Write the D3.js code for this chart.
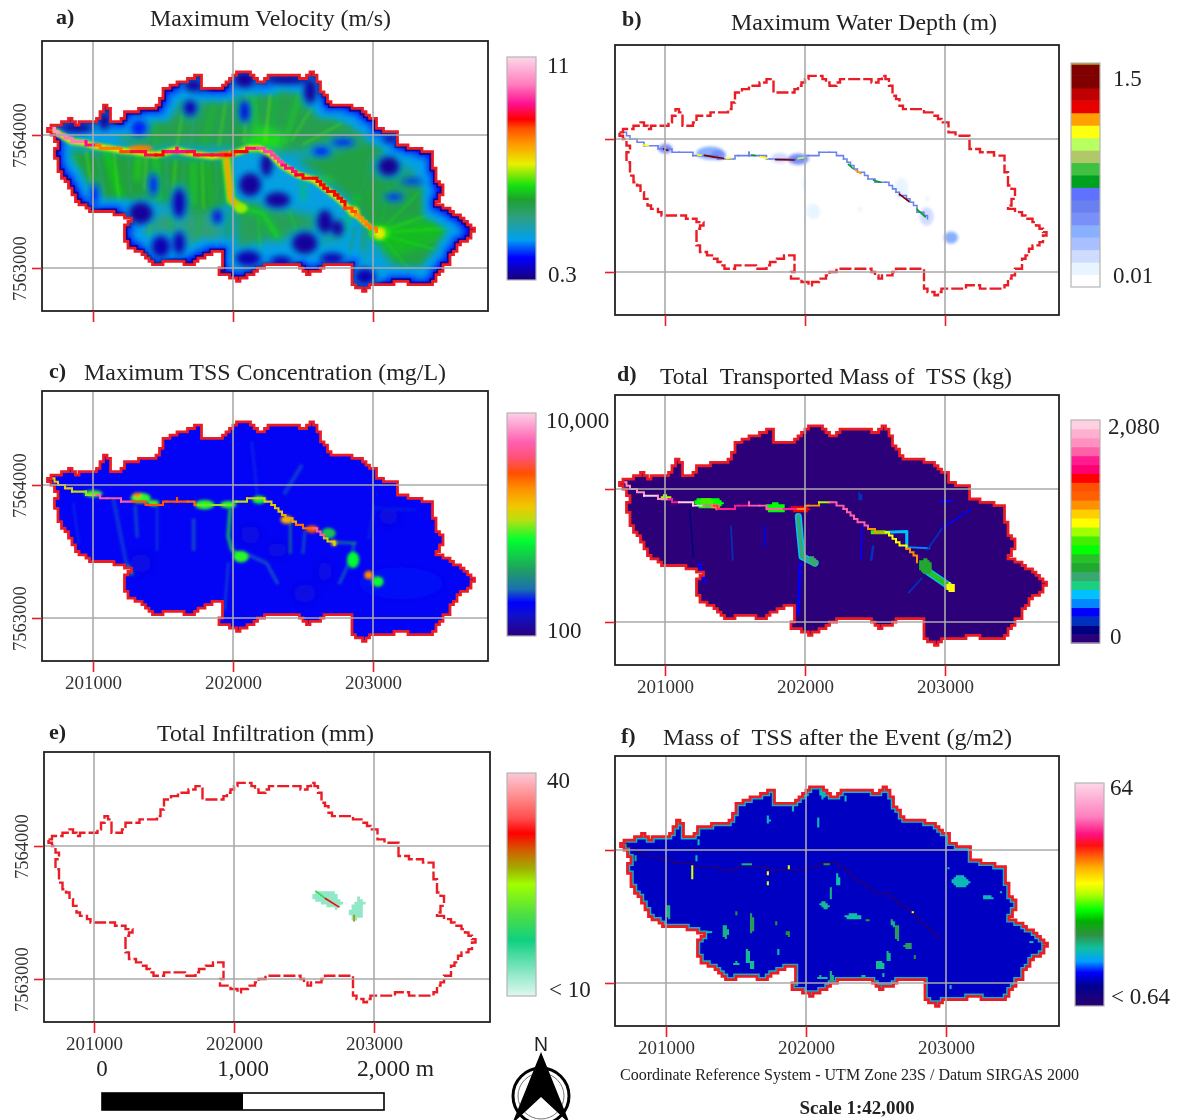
<!DOCTYPE html>
<html>
<head>
<meta charset="utf-8">
<style>
  html, body { margin: 0; background: #fff; }
  svg { display: block; filter: blur(0.4px); }
  text { font-family: "Liberation Serif", serif; fill: #222; }
</style>
</head>
<body>
<div id="container"></div>
<script src="https://d3js.org/d3.v7.min.js"></script>
<script>
// everything below is in map units: UTM easting / northing in metres
const eastTicks = [201000, 202000, 203000];
const northTicks = [7564000, 7563000];

const boundary = [[200682,7564053],[200768,7564095],[200833,7564116],[200885,7564085],[200964,7564111],[201029,7564103],[201042,7564153],[201081,7564216],[201115,7564178],[201125,7564103],[201185,7564111],[201229,7564166],[201328,7564191],[201419,7564204],[201484,7564241],[201490,7564329],[201549,7564379],[201628,7564392],[201706,7564430],[201766,7564455],[201776,7564362],[201875,7564342],[201966,7564405],[202018,7564472],[202109,7564480],[202174,7564392],[202240,7564430],[202279,7564455],[202409,7564455],[202513,7564417],[202539,7564480],[202591,7564442],[202630,7564329],[202695,7564229],[202838,7564216],[202904,7564191],[203008,7564116],[203047,7564040],[203164,7564015],[203182,7563935],[203281,7563902],[203424,7563864],[203437,7563739],[203450,7563651],[203502,7563626],[203489,7563538],[203458,7563475],[203541,7563437],[203620,7563374],[203715,7563274],[203700,7563231],[203646,7563198],[203594,7563136],[203541,7563035],[203489,7562972],[203424,7562884],[203346,7562864],[203229,7562897],[203125,7562884],[203021,7562872],[202943,7562834],[202864,7562884],[202851,7563025],[202682,7563025],[202617,7562985],[202526,7562947],[202487,7563025],[202370,7563025],[202240,7563025],[202161,7562972],[202057,7562909],[201992,7562934],[201888,7562972],[201927,7563025],[201914,7563136],[201823,7563090],[201693,7563022],[201628,7563060],[201536,7563048],[201445,7563017],[201406,7563085],[201276,7563148],[201229,7563211],[201237,7563324],[201263,7563374],[201172,7563412],[201003,7563437],[200885,7563512],[200820,7563638],[200755,7563739],[200729,7563864],[200742,7563952],[200682,7564053]];

const river = [[200682,7564053],[200755,7564010],[200846,7563952],[200938,7563940],[201016,7563915],[201107,7563902],[201198,7563884],[201276,7563877],[201354,7563864],[201445,7563852],[201523,7563869],[201589,7563889],[201667,7563869],[201758,7563852],[201849,7563839],[201953,7563852],[202031,7563869],[202109,7563902],[202187,7563902],[202266,7563859],[202344,7563776],[202461,7563701],[202578,7563663],[202656,7563600],[202734,7563538],[202812,7563462],[202864,7563412],[202943,7563337],[203021,7563274]];

// a) velocity, m/s
const velocityStops = [0, 0.1, 0.18, 0.28, 0.36, 0.42, 0.52, 0.62, 0.68, 0.72, 0.79, 0.88, 1];
const velocityColors = ["#1a0078", "#0000ff", "#00a0f0", "#2fa080", "#1fa030", "#10e010", "#e8f000", "#ff9000", "#ff5000", "#ff0000", "#ff1090", "#ff80c0", "#fcd8e8"];
const velocityRiver = [8, 7, 7, 5, 3, 3, 3.5, 4.5, 4.5, 4, 5, 5, 4.5, 4.5, 4.5, 4, 4, 5, 6, 6, 5, 4.2, 4, 4, 4, 3.5, 2.8, 3];
const velocityZones = [
  [0.98, [[201172,7564090],[201302,7564153],[201484,7564178],[201589,7564266],[201771,7564292],[201927,7564304],[202109,7564354],[202487,7564354],[202578,7564216],[202760,7564128],[202943,7564040],[203047,7563940],[202838,7563915],[202370,7563864],[202005,7563902],[201589,7563915],[201328,7563902],[201198,7563965]]],
  [1.05, [[200781,7563889],[201198,7563864],[201953,7563814],[201966,7563512],[201901,7563412],[201667,7563412],[201458,7563512],[201250,7563412],[201042,7563462],[200885,7563613]]],
  [0.85, [[201250,7563337],[201432,7563412],[201849,7563412],[201927,7563311],[201901,7563161],[201693,7563085],[201510,7563261],[201328,7563211]]],
  [0.95, [[202005,7563512],[202213,7563512],[202474,7563412],[202786,7563362],[202760,7563211],[202578,7563211],[202240,7563211],[202031,7563136]]],
  [1.02, [[202448,7563814],[202838,7563915],[203021,7563940],[203177,7563814],[203385,7563613],[203411,7563412],[203620,7563311],[203568,7563136],[203411,7562985],[203151,7563010],[202969,7563261],[202838,7563512],[202630,7563688]]],
  [1.2, [[203021,7563311],[203411,7563374],[203594,7563286],[203411,7563186],[203151,7563085],[203021,7563186]]],
  [1.4, [[202083,7563940],[202213,7564065],[202370,7563990],[202318,7563889],[202109,7563902]]]
];
const velocityWideStreaks = [
  [1.35, 30, [[201094,7563889],[201198,7563512]]],
  [1.4, 25, [[201328,7563839],[201315,7563663]]],
  [1.3, 30, [[201445,7563839],[201471,7563512]]],
  [1.3, 30, [[201719,7563789],[201719,7563487]]],
  [1.25, 25, [[200859,7563839],[200898,7563613]]],
  [1.2, 20, [[201823,7563789],[201849,7563462]]],
  [1.3, 30, [[202174,7563915],[202140,7564329]]],
  [1.3, 25, [[202370,7563940],[202487,7564342]]],
  [1.1, 25, [[202031,7563889],[202036,7564317]]],
  [1.2, 25, [[201797,7563940],[201862,7564216]]],
  [1.2, 20, [[201458,7563915],[201445,7564128]]],
  [1.25, 15, [[202318,7564367],[202266,7563965]]],
  [1.35, 35, [[202057,7563450],[202213,7563412],[202318,7563236]]],
  [1.1, 30, [[201966,7563412],[201953,7563060]]],
  [1.35, 18, [[202500,7563651],[202500,7563512]]],
  [1.35, 20, [[202890,7563538],[202786,7563261]]],
  [0.95, 15, [[202995,7563839],[202943,7563594]]],
  [1.4, 20, [[202708,7563663],[202578,7563676]]],
  [1.0, 30, [[202943,7563286],[202917,7563010]]],
  [0.95, 15, [[203008,7563852],[203359,7563814]]]
];
const velocityThinStreaks = [
  [1.5, 14, [[200950,7563880],[200990,7563600]]],
  [0.8, 18, [[201030,7563860],[201080,7563560]]],
  [1.5, 14, [[201150,7563860],[201190,7563470]]],
  [0.85, 16, [[201250,7563850],[201270,7563560]]],
  [1.6, 12, [[201380,7563840],[201370,7563590]]],
  [0.8, 18, [[201520,7563820],[201530,7563600]]],
  [1.5, 14, [[201590,7563810],[201570,7563520]]],
  [0.85, 16, [[201650,7563800],[201640,7563560]]],
  [1.5, 14, [[201780,7563800],[201790,7563450]]],
  [0.85, 16, [[201880,7563790],[201880,7563500]]],
  [1.4, 14, [[201410,7563410],[201400,7563200]]],
  [1.2, 16, [[201560,7563400],[201560,7563180]]],
  [1.2, 14, [[201760,7563400],[201740,7563130]]],
  [1.25, 14, [[201290,7563330],[201300,7563180]]],
  [1.5, 12, [[201600,7563910],[201650,7564240]]],
  [0.8, 16, [[201700,7563930],[201720,7564120]]],
  [1.5, 12, [[201900,7563920],[201950,7564280]]],
  [1.5, 14, [[202080,7563950],[202100,7564320]]],
  [1.6, 14, [[202230,7563950],[202270,7564340]]],
  [1.5, 12, [[202420,7563960],[202560,7564200]]],
  [1.5, 12, [[202500,7563930],[202780,7564090]]],
  [1.3, 14, [[202400,7563440],[202480,7563200]]],
  [1.25, 14, [[202600,7563420],[202640,7563150]]],
  [1.3, 14, [[202180,7563380],[202200,7563060]]],
  [1.1, 16, [[202870,7563300],[202820,7563040]]],
  [1.4, 16, [[203047,7563270],[203450,7563420]]],
  [1.4, 16, [[203047,7563265],[203550,7563300]]],
  [1.35, 16, [[203047,7563255],[203440,7563140]]],
  [1.3, 14, [[203047,7563255],[203250,7563000]]],
  [1.3, 14, [[203047,7563270],[203320,7563560]]],
  [1.2, 14, [[203047,7563280],[203120,7563620]]],
  [1.2, 14, [[203040,7563280],[202960,7563580]]]
];
const velocityTributary = [
  [1.4, 70, [[201953,7563814],[201974,7563613],[201984,7563512],[202057,7563450]]],
  [2.6, 35, [[201953,7563814],[201974,7563613],[201984,7563512],[202057,7563450]]]
];
const velocityLows = [[201693,7564204,40,50,0.35],[202083,7564178,26,70,0.4],[201328,7564053,47,50,0.45],[202240,7563776,36,75,0.33],[202122,7563626,68,75,0.33],[202318,7563512,78,50,0.33],[203112,7563764,65,62,0.32],[202630,7563877,52,25,0.45],[202786,7563945,68,20,0.45],[202656,7563349,47,75,0.33],[202747,7563299,36,50,0.33],[201615,7563487,39,95,0.35],[201341,7563412,73,70,0.33],[201888,7563387,26,45,0.38],[201432,7563626,21,70,0.45],[201010,7563550,21,70,0.45],[202513,7563186,78,70,0.33],[201484,7563161,57,70,0.35],[201615,7563186,36,75,0.35],[202109,7563073,78,50,0.35],[202344,7563048,65,35,0.35],[202708,7563073,73,35,0.35],[202943,7562935,65,55,0.35],[203281,7563651,65,15,0.45],[203151,7563533,52,18,0.45],[202083,7564417,65,55,0.33],[202383,7564417,130,30,0.33],[201719,7564372,57,40,0.33],[202552,7564329,39,80,0.33],[200885,7564053,104,30,0.33],[201081,7564103,36,55,0.33],[203125,7563970,52,25,0.35]];
const velocityHighs = [[203047,7563261,78,62,1.4],[203047,7563261,37,40,2],[202864,7563425,39,38,2.2],[201341,7563902,90,20,3],[201953,7563852,65,20,3.6],[202057,7563450,47,35,1.7]];

// b) depth, m (classed legend, bottom to top)
const depthBands = ["#ffffff", "#e8f4ff", "#d0dcff", "#a8c0ff", "#88b0ff", "#7890f8", "#6880f0", "#6070ff", "#00a020", "#40c040", "#b0c868", "#b8ff60", "#ffff10", "#ffa000", "#e80000", "#c00000", "#800000", "#800000"];
const depthRiver = [0.55, 0.55, 0.55, 0.55, 0.55, 0.55, 0.55, 0.55, 0.55, 0.55, 0.55, 0.55, 0.55, 0.55, 0.55, 0.55, 0.55, 0.55, 0.55, 0.55, 0.55, 0.55, 0.55, 0.55, 0.55, 0.55];
const depthReaches = [
  [1.4, 12, [[201283,7563877],[201354,7563864],[201417,7563855]]],
  [1.4, 12, [[201791,7563845],[201925,7563842]]],
  [1.4, 12, [[202674,7563585],[202741,7563532]]],
  [1.05, 12, [[200842,7563955],[200880,7563950]]],
  [1.4, 12, [[200990,7563925],[201020,7563915]]],
  [1.05, 12, [[201235,7563880],[201260,7563878]]],
  [1.05, 12, [[201440,7563853],[201470,7563858]]],
  [0.7, 12, [[201620,7563880],[201645,7563875]]],
  [1.05, 12, [[201680,7563866],[201730,7563856]]],
  [1.0, 12, [[201950,7563852],[201990,7563860]]],
  [0.75, 12, [[202310,7563810],[202340,7563780]]],
  [1.1, 12, [[202360,7563765],[202400,7563740]]],
  [0.7, 12, [[202490,7563690],[202540,7563675]]],
  [0.7, 12, [[202800,7563470],[202860,7563415]]]
];
const depthBlobs = [[201003,7563927,50,36,0.45],[201324,7563894,100,50,0.35],[201380,7563880,55,38,0.5],[201818,7563857,60,40,0.2],[201952,7563849,75,42,0.45],[202687,7563631,50,78,0.14],[202869,7563417,50,70,0.22],[203043,7563259,50,46,0.4],[202059,7563455,50,58,0.14],[202393,7563472,16,18,0.14],[202874,7563550,16,18,0.12],[201992,7563668,10,42,0.1],[203048,7563907,7,10,0.1],[201283,7563311,16,12,0.1]];

// c) TSS concentration, mg/L
const concentrationStops = [0, 0.09, 0.15, 0.21, 0.3, 0.43, 0.52, 0.58, 0.66, 0.73, 0.8, 0.87, 1];
const concentrationColors = ["#2a0080", "#1010c8", "#0000ff", "#1a70b0", "#20a060", "#00ff30", "#b8e010", "#f0c800", "#ff9000", "#ff5000", "#ff5078", "#ff60b0", "#fcd0e8"];
const concentrationRiver = [1400, 1400, 1100, 1000, 5000, 5000, 5000, 3000, 3000, 2800, 2800, 2800, 2500, 900, 1000, 900, 1100, 1300, 1300, 1400, 1800, 2500, 5000, 1300];
const concentrationStreaks = [
  [235, 25, [[201302,7563839],[201315,7563613]]],
  [225, 30, [[201146,7563889],[201237,7563412]]],
  [230, 15, [[201458,7563839],[201458,7563512]]],
  [250, 20, [[201719,7563739],[201719,7563512]]],
  [215, 20, [[200859,7563864],[200898,7563563]]],
  [470, 24, [[201979,7563814],[201966,7563613],[201992,7563512],[202057,7563462]]],
  [250, 20, [[202109,7563475],[202240,7563412],[202318,7563261]]],
  [250, 12, [[201966,7563412],[201940,7563060]]],
  [400, 12, [[202409,7563739],[202409,7563487]]],
  [290, 12, [[202513,7563651],[202500,7563487]]],
  [260, 16, [[202864,7563563],[202851,7563462],[202760,7563261]]],
  [420, 12, [[202734,7563568],[202877,7563563]]],
  [230, 30, [[202370,7563940],[202487,7564141]]],
  [215, 25, [[202174,7563915],[202135,7564317]]],
  [225, 12, [[203008,7563839],[202969,7563594]]],
  [225, 10, [[203021,7563826],[203307,7563814]]],
  [320, 30, [[201250,7563387],[201276,7563337]]]
];
const concentrationLows = [[202122,7563626,68,70,170],[202318,7563512,78,50,170],[203112,7563764,65,62,165],[202656,7563349,47,75,170],[202513,7563186,78,70,170],[201341,7563412,73,70,172],[203200,7563261,300,120,205]];
const concentrationBlobs = [[201003,7563935,65,26,850],[201341,7563902,72,40,800],[201432,7563864,42,24,850],[201797,7563852,70,36,800],[201966,7563852,58,28,800],[202187,7563889,50,30,750],[202383,7563739,44,30,1700],[202565,7563668,46,28,2800],[202682,7563638,52,40,500],[202721,7563563,22,22,1400],[202858,7563437,44,62,700],[202969,7563324,32,32,2200],[203034,7563274,42,40,750],[202057,7563462,56,44,800],[201315,7563925,28,18,2200]];

// d) transported mass, kg (classed legend, bottom to top)
const massBands = ["#2c0078", "#000080", "#0030c0", "#0000ff", "#0088ff", "#00c0ff", "#18d080", "#38a870", "#20a830", "#28c028", "#00ff00", "#40f000", "#a0ff00", "#ffff00", "#ffd000", "#ff9000", "#ff6000", "#ff5000", "#ff0000", "#ff0070", "#ff1c90", "#ff60a8", "#ff90c0", "#ffb0d0", "#ffd0e0"];
const massRiver = [1900, 1900, 2000, 1900, 1700, 2000, 2000, 1800, 1700, 1700, 1700, 1800, 1800, 1800, 1700, 1300, 1300, 1000, 1750, 1750, 1800, 1250, 1150, 1150, 1250];
const massStreaks = [
  [450, 50, [[201952,7563794],[201965,7563643],[201979,7563492],[202072,7563442]]],
  [600, 28, [[201952,7563794],[201965,7563643],[201979,7563492],[202072,7563442]]],
  [250, 22, [[201965,7563442],[201952,7563065]]],
  [450, 55, [[202861,7563392],[203035,7563266]]],
  [800, 36, [[202861,7563392],[203035,7563266]]],
  [450, 22, [[202527,7563673],[202727,7563681],[202727,7563568]]],
  [400, 14, [[202727,7563563],[202888,7563555]]],
  [200, 12, [[202874,7563543],[202981,7563706]]],
  [250, 12, [[202981,7563706],[203182,7563844]]],
  [280, 12, [[202407,7563719],[202401,7563467]]],
  [200, 18, [[202487,7563568],[202473,7563467]]],
  [250, 12, [[201711,7563719],[201711,7563568]]],
  [170, 12, [[201471,7563719],[201484,7563467]]],
  [100, 12, [[201176,7563844],[201203,7563492]]],
  [330, 22, [[201243,7563442],[201283,7563304]]],
  [170, 12, [[202834,7563329],[202741,7563221]]]
];
const massBlobs = [[201003,7563932,40,22,1000],[201310,7563894,105,42,900],[201300,7563905,55,22,950],[201364,7563869,32,22,1300],[201791,7563857,72,38,900],[201965,7563849,72,28,1500],[202059,7563455,32,38,600],[202861,7563417,50,58,700],[203043,7563261,37,32,1100],[202527,7563673,60,20,950],[203008,7563907,50,12,330],[202393,7563945,16,25,170]];

// e) infiltration, mm
const infiltrationStops = [0, 0.1, 0.25, 0.37, 0.5, 0.57, 0.65, 0.73, 0.8, 0.9, 1];
const infiltrationColors = ["#e0f8f0", "#90e8c8", "#10d080", "#50e040", "#a0ff00", "#a0b000", "#d06000", "#ff0000", "#ff5050", "#ff9090", "#fcc8d8"];
const infiltrationPatches = [
  [13, [[202557,7563642],[202639,7563667],[202708,7563655],[202776,7563567],[202748,7563524],[202653,7563554],[202585,7563587],[202557,7563642]]],
  [13, [[202830,7563542],[202885,7563617],[202934,7563572],[202912,7563466],[202858,7563436],[202825,7563491],[202830,7563542]]]
];
const infiltrationStreaks = [
  [20, 12, [[202585,7563660],[202653,7563605]]],
  [32, 12, [[202653,7563605],[202748,7563542]]],
  [28, 12, [[202858,7563479],[202858,7563436]]]
];

// f) TSS mass after the event, g/m2
const residualStops = [0, 0.09, 0.15, 0.2, 0.26, 0.32, 0.38, 0.43, 0.5, 0.55, 0.62, 0.72, 0.77, 0.85, 1];
const residualColors = ["#2a0070", "#000090", "#0000ff", "#00a0ff", "#10c0a0", "#309040", "#00b000", "#00ff00", "#b0ff00", "#ffff00", "#ffb000", "#ff1010", "#ff1080", "#ff80c0", "#fcd8e8"];
const residualRiver = [0.64, 0.64, 0.64, 0.64, 0.64, 0.64, 0.64, 0.64, 0.64, 0.64, 0.64, 0.64, 0.64, 0.64, 0.64, 0.64, 0.64, 0.64, 0.64, 0.64, 0.64, 0.64, 0.64, 0.64, 0.64, 0.64, 0.64];
const residualSpots = [[201189,7563824,13,55,7],[201730,7564226,13,30,1.9],[202116,7564427,19,45,2],[201912,7564314,10,35,2],[202283,7564390,8,20,2],[202085,7564214,8,38,2],[201236,7564055,10,25,2],[201016,7563535,16,62,2.3],[201730,7563824,10,20,8],[201730,7563749,7,15,7],[202179,7563673,13,45,2.3],[202132,7563585,31,30,2.2],[202226,7563774,16,45,2.1],[202337,7563497,69,23,2.1],[202440,7563472,10,20,3],[202651,7563372,19,62,2.6],[202620,7563447,10,38,2.3],[202730,7563276,28,25,2.6],[202588,7563196,13,50,2.3],[202525,7563133,31,35,2.2],[202179,7563045,16,45,2.3],[202116,7563040,38,13,2.2],[201613,7563447,16,75,2.6],[201582,7563196,19,55,2.2],[201425,7563384,19,55,2.3],[201308,7563384,25,13,2.1],[201503,7563523,7,13,3],[201434,7563610,7,20,3],[201792,7563447,7,15,3],[201874,7563372,13,25,3],[201802,7563233,10,25,2.1],[201613,7563133,19,35,2.2],[201503,7563146,19,15,2.2],[203107,7563761,63,45,2],[203296,7563643,47,13,2],[203390,7563686,10,10,2],[203720,7563276,25,30,2],[203610,7563309,16,13,2],[203013,7563862,7,15,2],[202928,7563915,6,6,11],[202557,7563058,10,25,2.2],[202415,7563045,16,20,2.2],[202777,7563201,7,15,3],[203038,7562970,10,15,2],[201220,7563937,13,25,2],[200780,7563937,10,20,2.3],[201582,7563887,38,8,2.3],[201881,7563874,10,13,7],[202148,7563887,25,10,3],[202761,7563530,6,6,8]];

const rampColor = (stops, colors, t0, t1) => {
  const ramp = d3.scaleLinear().domain(stops).range(colors);
  const pos = d3.scaleLog().domain([t0, t1]).range([0, 1]).clamp(true);
  return v => ramp(pos(v));
};
const linColor = (stops, colors, t0, t1) => {
  const ramp = d3.scaleLinear().domain(stops).range(colors);
  const pos = d3.scaleLinear().domain([t0, t1]).range([0, 1]).clamp(true);
  return v => ramp(pos(v));
};
const velocityColor = rampColor(velocityStops, velocityColors, 0.3, 11);
const concentrationColor = rampColor(concentrationStops, concentrationColors, 100, 10000);
const residualColor = rampColor(residualStops, residualColors, 0.64, 64);
const infiltrationColor = linColor(infiltrationStops, infiltrationColors, 10, 40);
const depthColor = d3.scaleQuantize().domain([0.01, 1.5]).range(depthBands);
const massColor = d3.scaleQuantize().domain([0, 2080]).range(massBands);

const W = 1186, H = 1120;
const svg = d3.select("#container").append("svg").attr("width", W).attr("height", H).attr("viewBox", `0 0 ${W} ${H}`);
const defs = svg.append("defs");

[["blur1", 0.7], ["blur2", 1.5], ["blur3", 3], ["blur4", 5]].forEach(([id, s]) => {
  defs.append("filter").attr("id", id)
    .attr("filterUnits", "userSpaceOnUse")
    .attr("x", 0).attr("y", 0).attr("width", W).attr("height", H)
    .append("feGaussianBlur").attr("stdDeviation", s);
});

// raster edges: walk a polyline on a grid so it looks like the model cells
const stairs = (pts, cell = 25) => {
  const snap = v => Math.round(v / cell) * cell;
  const out = [];
  d3.pairs(pts).forEach(([a, b]) => {
    const n = Math.max(1, Math.ceil(Math.max(Math.abs(b[0] - a[0]), Math.abs(b[1] - a[1])) / cell));
    d3.range(n + 1).forEach(i => {
      const p = [snap(a[0] + (b[0] - a[0]) * i / n), snap(a[1] + (b[1] - a[1]) * i / n)];
      const last = out[out.length - 1];
      if (!last) { out.push(p); return; }
      if (last[0] !== p[0] && last[1] !== p[1]) out.push([p[0], last[1]]);
      if (last[0] !== p[0] || last[1] !== p[1]) out.push(p);
    });
  });
  return out;
};
const cells = stairs(boundary);

// an ellipse outline on the model grid, for the classed rasters
const cellEllipse = (d, cell) => {
  const pts = d3.range(17).map(i => {
    const a = i / 16 * 2 * Math.PI;
    return [d[0] + d[2] * Math.cos(a), d[1] + d[3] * Math.sin(a)];
  });
  return stairs(pts, cell);
};

const panels = [
  { id: "a", fx: 42, fy: 41, fw: 446, tx: 93, ty: 135, label: "a)", lx: 56, ly: 24, title: "Maximum Velocity (m/s)", tlx: 150, tly: 26, tlw: 241, showX: false, showY: true },
  { id: "b", fx: 615, fy: 45, fw: 444, tx: 665, ty: 139, label: "b)", lx: 622, ly: 26, title: "Maximum Water Depth (m)", tlx: 731, tly: 30, tlw: 266, showX: false, showY: false },
  { id: "c", fx: 42, fy: 391, fw: 446, tx: 93, ty: 485, label: "c)", lx: 49, ly: 378, title: "Maximum TSS Concentration (mg/L)", tlx: 84, tly: 380, tlw: 362, showX: true, showY: true },
  { id: "d", fx: 615, fy: 395, fw: 444, tx: 665, ty: 489, label: "d)", lx: 617, ly: 381, title: "Total  Transported Mass of  TSS (kg)", tlx: 660, tly: 384, tlw: 352, showX: true, showY: false },
  { id: "e", fx: 44, fy: 752, fw: 446, tx: 94, ty: 846, label: "e)", lx: 49, ly: 739, title: "Total Infiltration (mm)", tlx: 157, tly: 741, tlw: 217, showX: true, showY: true },
  { id: "f", fx: 615, fy: 756, fw: 444, tx: 666, ty: 850, label: "f)", lx: 621, ly: 743, title: "Mass of  TSS after the Event (g/m2)", tlx: 663, tly: 745, tlw: 349, showX: true, showY: false }
];
const FH = 270;

const layerFns = {
  a(g, m) {
    m.fill(g, velocityColor(0.6));
    m.zones(m.layer(g, "blur4"), velocityZones, velocityColor);
    m.streaks(m.layer(g, "blur3"), velocityWideStreaks, velocityColor);
    m.streaks(m.layer(g, "blur2").attr("opacity", 0.65), velocityThinStreaks, velocityColor);
    const fringe = m.layer(g, "blur3");
    m.edge(fringe, velocityColor(0.58), 26);
    m.edge(fringe, velocityColor(0.42), 13);
    m.edge(m.layer(g, "blur1"), velocityColor(0.32), 6);
    // each low has a sky blue skirt round the dark core
    m.blobs(m.layer(g, "blur4"), velocityLows.map(d => [d[0], d[1], d[2] * 1.7, d[3] * 1.5, 0.6]), velocityColor);
    m.blobs(m.layer(g, "blur3"), velocityLows.map(d => [d[0], d[1], d[2] * 1.15, d[3] * 1.15, d[4]]), velocityColor);
    m.streaks(m.layer(g, "blur2"), velocityTributary, velocityColor);
    m.streaks(m.layer(g, "blur2"), [[1.5, 48, river.slice(0, 27)], [2, 32, river]], velocityColor);
    m.blobs(m.layer(g, "blur2"), velocityHighs, velocityColor);
    m.reach(m.layer(g, "blur1"), velocityRiver, velocityColor, 22);
  },
  b(g, m) {
    m.blobs(m.layer(g, "blur2"), depthBlobs, depthColor);
    m.reach(g, depthRiver, depthColor, 11);
    m.streaks(g, depthReaches, depthColor);
  },
  c(g, m) {
    m.fill(g, concentrationColor(190));
    m.blobs(m.layer(g, "blur4"), concentrationLows, concentrationColor);
    m.streaks(m.layer(g, "blur2"), concentrationStreaks, concentrationColor);
    m.blobs(m.layer(g, "blur2"), concentrationBlobs, concentrationColor);
    m.reach(g, concentrationRiver, concentrationColor, 15);
  },
  d(g, m) {
    m.fill(g, massColor(0));
    const soft = m.layer(g, "blur1");
    m.streaks(soft, massStreaks, massColor);
    m.cellBlobs(soft, massBlobs, massColor, 15);
    m.reach(g, massRiver, massColor, 14);
  },
  e(g, m) {
    m.cellZones(g, infiltrationPatches, infiltrationColor, 20);
    m.streaks(g, infiltrationStreaks, infiltrationColor);
  },
  f(g, m) {
    m.fill(g, residualColor(1.1));
    m.edge(m.layer(g, "blur1"), residualColor(1.9), 5.5);
    m.reach(g, residualRiver, residualColor, 10, 0.85);
    m.cellBlobs(m.layer(g, "blur1"), residualSpots, residualColor, 15);
  }
};

panels.forEach(p => {
  const x = d3.scaleLinear().domain([201000, 203000]).range([p.tx, p.tx + 280]);
  const y = d3.scaleLinear().domain([7564000, 7563000]).range([p.ty, p.ty + 133]);
  const line = d3.line().x(d => x(d[0])).y(d => y(d[1]));
  const metres = w => x(201000 + w) - x(201000);
  const outline = line(cells) + "Z";

  defs.append("clipPath").attr("id", `clip-${p.id}`).append("path").attr("d", outline);

  const root = svg.append("g").attr("id", `panel-${p.id}`);
  const field = root.append("g").attr("clip-path", `url(#clip-${p.id})`);

  const m = {
    layer: (g, f) => g.append("g").attr("filter", `url(#${f})`),
    fill: (g, c) => g.append("path").attr("d", outline).attr("fill", c),
    edge: (g, c, w) => g.append("path").attr("d", outline).attr("fill", "none").attr("stroke", c).attr("stroke-width", w),
    zones: (g, data, color) => g.selectAll("path").data(data).enter().append("path")
      .attr("d", d => line(d[1]) + "Z").attr("fill", d => color(d[0])),
    cellZones: (g, data, color, cell) => g.selectAll("path.z").data(data).enter().append("path").attr("class", "z")
      .attr("d", d => line(stairs(d[1], cell)) + "Z").attr("fill", d => color(d[0])),
    blobs: (g, data, color) => g.selectAll("ellipse").data(data).enter().append("ellipse")
      .attr("cx", d => x(d[0])).attr("cy", d => y(d[1]))
      .attr("rx", d => metres(d[2])).attr("ry", d => y(7564000 - d[3]) - y(7564000))
      .attr("fill", d => color(d[4])),
    cellBlobs: (g, data, color, cell) => g.selectAll("path.b").data(data).enter().append("path").attr("class", "b")
      .attr("d", d => line(cellEllipse(d, cell)) + "Z").attr("fill", d => color(d[4])),
    streaks: (g, data, color) => g.selectAll("path.s").data(data).enter().append("path").attr("class", "s")
      .attr("d", d => line(d[2])).attr("fill", "none")
      .attr("stroke", d => color(d[0])).attr("stroke-width", d => metres(d[1]))
      .attr("stroke-linecap", "round").attr("stroke-linejoin", "round"),
    // river drawn reach by reach, one value for each reach
    reach: (g, values, color, w, opacity = 1) => g.selectAll("path.r").data(values).enter().append("path").attr("class", "r")
      .attr("d", (d, i) => line(stairs([river[i], river[i + 1]], 25))).attr("fill", "none")
      .attr("stroke", d => color(d)).attr("stroke-width", metres(w)).attr("stroke-opacity", opacity)
      .attr("stroke-linecap", "square")
  };
  layerFns[p.id](field, m);

  // catchment outline
  const dashed = p.id === "b" || p.id === "e";
  root.append("path").attr("d", outline).attr("fill", "none")
    .attr("stroke", "#ec1c24").attr("stroke-width", dashed ? 2.4 : 2.8)
    .attr("stroke-dasharray", dashed ? "12 3" : null);

  // grid
  root.append("g").selectAll("line").data(eastTicks).enter().append("line")
    .attr("x1", d => x(d)).attr("x2", d => x(d)).attr("y1", p.fy).attr("y2", p.fy + FH)
    .attr("stroke", "#aaa").attr("stroke-width", 1.6);
  root.append("g").selectAll("line").data(northTicks).enter().append("line")
    .attr("x1", p.fx).attr("x2", p.fx + p.fw).attr("y1", d => y(d)).attr("y2", d => y(d))
    .attr("stroke", "#aaa").attr("stroke-width", 1.6);

  root.append("rect").attr("x", p.fx).attr("y", p.fy).attr("width", p.fw).attr("height", FH)
    .attr("fill", "none").attr("stroke", "#222").attr("stroke-width", 1.8);

  // axes, red ticks outside the frame
  const ax = root.append("g").attr("transform", `translate(0,${p.fy + FH})`)
    .call(d3.axisBottom(x).tickValues(eastTicks).tickSize(11).tickPadding(4).tickFormat(p.showX ? d3.format("d") : () => ""));
  const ay = root.append("g").attr("transform", `translate(${p.fx},0)`)
    .call(d3.axisLeft(y).tickValues(northTicks).tickSize(10).tickFormat(p.showY ? d3.format("d") : () => ""));
  [ax, ay].forEach(a => {
    a.select(".domain").remove();
    a.selectAll(".tick line").attr("stroke", "#ec1c24").attr("stroke-width", 1.6);
    a.selectAll(".tick text").style("font-family", '"Liberation Serif", serif').style("fill", "#333").style("font-size", "19px");
  });
  ay.selectAll(".tick text").style("font-size", "18.5px").attr("x", 0).attr("dy", 0).attr("text-anchor", "middle")
    .attr("transform", "translate(-16,0) rotate(-90)");
  if (!p.showX) ax.selectAll(".tick text").remove();
  if (!p.showY) ay.selectAll(".tick text").remove();

  root.append("text").attr("x", p.lx).attr("y", p.ly).attr("font-size", 22).attr("font-weight", "bold").text(p.label);
  root.append("text").attr("x", p.tlx).attr("y", p.tly).attr("font-size", 23.5)
    .attr("xml:space", "preserve").style("white-space", "pre")
    .attr("textLength", p.tlw).attr("lengthAdjust", "spacingAndGlyphs").text(p.title);
});

// legends
const legends = [
  { x: 507, y0: 57, y1: 280, stops: velocityStops, colors: velocityColors, labels: [["11", 547, 73], ["0.3", 548, 282]] },
  { x: 1071, y0: 63, y1: 287, bands: depthBands, cap: "#a08000", labels: [["1.5", 1113, 86], ["0.01", 1113, 283]] },
  { x: 507, y0: 413, y1: 636, stops: concentrationStops, colors: concentrationColors, labels: [["10,000", 546, 428], ["100", 547, 638]] },
  { x: 1071, y0: 420, y1: 643, bands: massBands, labels: [["2,080", 1108, 434], ["0", 1110, 644]] },
  { x: 507, y0: 773, y1: 996, stops: infiltrationStops, colors: infiltrationColors, labels: [["40", 547, 788], ["< 10", 549, 997]] },
  { x: 1075, y0: 783, y1: 1006, stops: residualStops, colors: residualColors, labels: [["64", 1110, 795], ["< 0.64", 1111, 1004]] }
];
legends.forEach((l, i) => {
  const g = svg.append("g").attr("id", `legend-${i}`);
  if (l.bands) {
    const band = d3.scaleBand().domain(d3.range(l.bands.length)).range([l.y1, l.y0]);
    g.selectAll("rect").data(l.bands).enter().append("rect")
      .attr("x", l.x).attr("y", (d, k) => band(k)).attr("width", 29).attr("height", band.bandwidth() + 0.5).attr("fill", d => d);
    if (l.cap) g.append("rect").attr("x", l.x).attr("y", l.y0).attr("width", 29).attr("height", 2).attr("fill", l.cap);
  } else {
    const grad = defs.append("linearGradient").attr("id", `ramp-${i}`).attr("x1", 0).attr("x2", 0).attr("y1", 1).attr("y2", 0);
    grad.selectAll("stop").data(l.stops).enter().append("stop")
      .attr("offset", d => d).attr("stop-color", (d, k) => l.colors[k]);
    g.append("rect").attr("x", l.x).attr("y", l.y0).attr("width", 29).attr("height", l.y1 - l.y0).attr("fill", `url(#ramp-${i})`);
  }
  g.append("rect").attr("x", l.x).attr("y", l.y0).attr("width", 29).attr("height", l.y1 - l.y0)
    .attr("fill", "none").attr("stroke", "#b5b5b5").attr("stroke-width", 1.2);
  g.selectAll("text").data(l.labels).enter().append("text")
    .attr("x", d => d[1]).attr("y", d => d[2]).attr("font-size", 23).text(d => d[0]);
});

// scale bar
const barX = d3.scaleLinear().domain([0, 2000]).range([102, 384]);
const bar = svg.append("g");
bar.append("rect").attr("x", barX(0)).attr("y", 1093).attr("width", barX(1000) - barX(0)).attr("height", 17).attr("fill", "#000");
bar.append("rect").attr("x", barX(0)).attr("y", 1093).attr("width", barX(2000) - barX(0)).attr("height", 17)
  .attr("fill", "none").attr("stroke", "#000").attr("stroke-width", 1.6);
bar.append("text").attr("x", barX(0)).attr("y", 1076).attr("text-anchor", "middle").attr("font-size", 23).text("0");
bar.append("text").attr("x", barX(1000)).attr("y", 1076).attr("text-anchor", "middle").attr("font-size", 23).text("1,000");
bar.append("text").attr("x", 357).attr("y", 1076).attr("font-size", 23.5).text("2,000 m");

// north arrow
const north = svg.append("g");
north.append("circle").attr("cx", 541).attr("cy", 1096).attr("r", 28).attr("fill", "none").attr("stroke", "#000").attr("stroke-width", 3);
north.append("circle").attr("cx", 541).attr("cy", 1096).attr("r", 23).attr("fill", "none").attr("stroke", "#777").attr("stroke-width", 1);
north.append("path").attr("d", "M541,1052L512,1124L541,1097L570,1124Z").attr("fill", "#000");
north.append("text").attr("x", 541).attr("y", 1051).attr("text-anchor", "middle").attr("font-size", 21)
  .style("font-family", '"Liberation Sans", sans-serif').attr("textLength", 14).attr("lengthAdjust", "spacingAndGlyphs").text("N");

svg.append("text").attr("x", 620).attr("y", 1080).attr("font-size", 16).attr("textLength", 459).attr("lengthAdjust", "spacingAndGlyphs")
  .text("Coordinate Reference System - UTM Zone 23S / Datum SIRGAS 2000");
svg.append("text").attr("x", 857).attr("y", 1114).attr("text-anchor", "middle").attr("font-size", 19).attr("font-weight", "bold")
  .text("Scale 1:42,000");
</script>
</body>
</html>
